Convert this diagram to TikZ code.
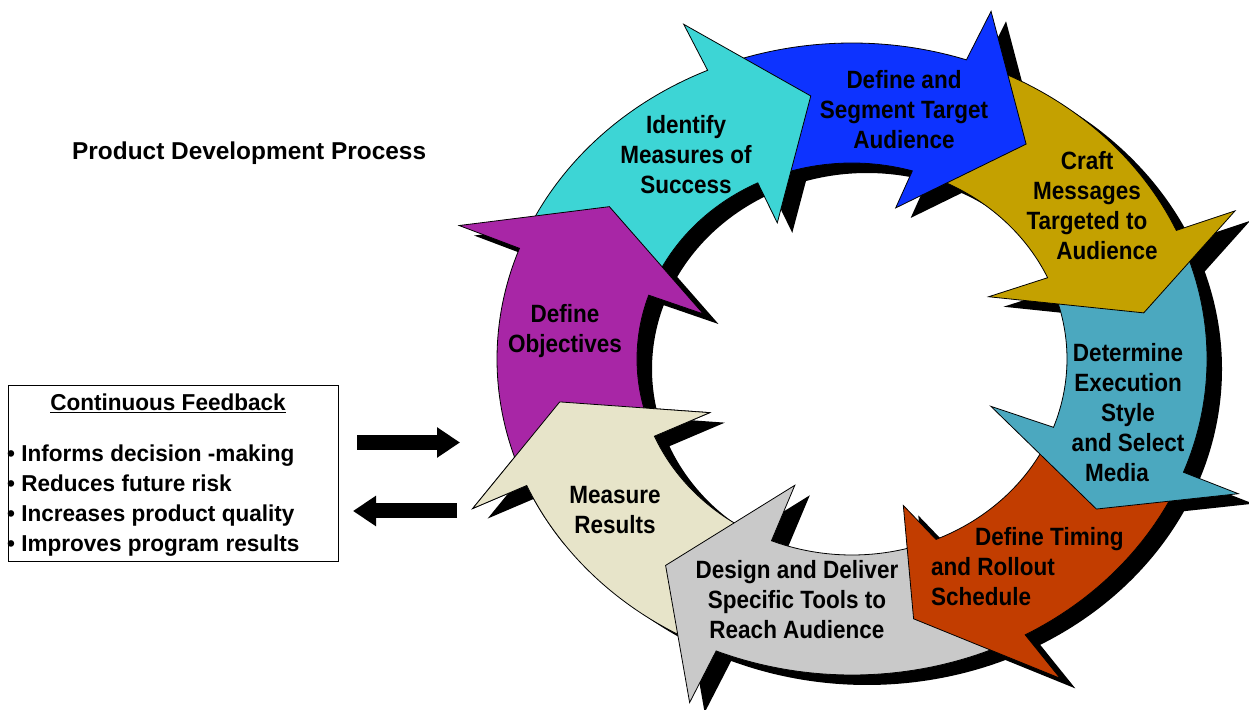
\documentclass[tikz,border=0pt]{standalone}
\usepackage{fontspec}
\setmainfont{Liberation Sans}
\newfontfamily\ringfont[FakeStretch=0.9]{Liberation Sans}
\newfontfamily\boxfont[FakeStretch=0.98]{Liberation Sans}
\usetikzlibrary{arrows.meta}
\definecolor{cpurple}{RGB}{168,38,166}
\definecolor{ccyan}{RGB}{61,213,213}
\definecolor{cblue}{RGB}{13,51,255}
\definecolor{cgold}{RGB}{196,161,0}
\definecolor{cteal}{RGB}{75,168,191}
\definecolor{corange}{RGB}{194,61,0}
\definecolor{cgray}{RGB}{201,201,201}
\definecolor{ccream}{RGB}{231,228,201}
% point on ring: angle #1, radial fraction #2 (0 inner, 1 outer)
\newcommand\ep[2]{({852+(215+140*(#2))*cos(#1)},{350+(196+120*(#2))*sin(#1)})}
% To, Ti, Bo, Bi, OB, A, IB, OBs, IBs
\newcommand\cycpath[9]{\ep{#1}{1} arc[start angle=#1,end angle=#3,x radius=355pt,y radius=316pt] -- \ep{#5}{#8} -- \ep{#6}{0.58} -- \ep{#7}{#9} -- \ep{#4}{0} arc[start angle=#4,end angle=#2,x radius=215pt,y radius=196pt] -- cycle}
\def\pA{\cycpath{200}{200}{159.5}{161}{159}{145}{162}{1.47}{-0.42}}
\def\pB{\cycpath{156.5}{158}{114}{116}{114}{98}{117}{1.42}{-0.36}}
\def\pC{\cycpath{111}{113}{71.2}{73.7}{70.5}{54}{75}{1.44}{-0.33}}
\def\pD{\cycpath{68}{70.5}{24}{24.5}{23.6}{10}{26}{1.45}{-0.45}}
\def\pE{\cycpath{21}{21.5}{-21}{-20.4}{-21.5}{-34.4}{-20}{1.43}{-0.48}}
\def\pF{\cycpath{-24}{-23.5}{-60.8}{-67}{-60}{-78}{-72}{1.44}{-0.35}}
\def\pG{\cycpath{-65}{-72}{-112.5}{-112}{-112.7}{-129}{-113}{1.47}{-0.49}}
\def\pH{\cycpath{-115.5}{-115}{-156.4}{-156.8}{-156}{-170.7}{-158}{1.43}{-0.44}}
\tikzset{
  shadowfill/.style={fill=black,xshift=15pt,yshift=-10pt},
  ringarrow/.style={fill=#1,draw=black,line width=0.8pt,line join=miter},
  ringtext/.style={align=center,inner sep=0pt,font=\ringfont\bfseries\fontsize{25}{30}\selectfont},
  blockarrow/.style={line width=15pt,-{Triangle[length=23pt,width=29pt]}}
}
\begin{document}
\begin{tikzpicture}[x=1pt,y=1pt]
\useasboundingbox (0,0) rectangle (1249,709);
% shadows
\fill[shadowfill] \pA; \fill[shadowfill] \pB; \fill[shadowfill] \pC; \fill[shadowfill] \pD;
\fill[shadowfill] \pE; \fill[shadowfill] \pF; \fill[shadowfill] \pG; \fill[shadowfill] \pH;
% arrows
\filldraw[ringarrow=ccream] \pH;
\filldraw[ringarrow=cgray] \pG;
\filldraw[ringarrow=corange] \pF;
\filldraw[ringarrow=cteal] \pE;
\filldraw[ringarrow=cgold] \pD;
\filldraw[ringarrow=cblue] \pC;
\filldraw[ringarrow=ccyan] \pB;
\filldraw[ringarrow=cpurple] \pA;
\begin{scope}
\clip (440,329) -- (760,329) -- (760,239) -- (650,164) -- (440,164) -- cycle;
\filldraw[ringarrow=ccream] \pH;
\end{scope}
% ring labels
\node[ringtext] (obj) at (565,378) {Define\\Objectives};
\node[ringtext] (ims) at (686,554) {Identify\\Measures of\\Success};
\node[ringtext] (dst) at (904,599) {Define and\\Segment Target\\Audience};
\node[ringtext] (cft) at (1087,503) {Craft\\Messages\\Targeted to\\\hspace*{40pt}Audience};
\node[ringtext] (det) at (1128,296) {Determine\\Execution\\Style\\and Select\\Media\hspace*{22pt}};
\node[ringtext,align=left,anchor=west] (tim) at (931,142) {\hspace*{44pt}Define Timing\\and Rollout\\Schedule};
\node[ringtext] (dsg) at (797,109) {Design and Deliver\\Specific Tools to\\Reach Audience};
\node[ringtext] (mes) at (615,199) {Measure\\Results};
% title
\node[anchor=west,inner sep=0pt,font=\bfseries\fontsize{24.4}{29}\selectfont] (title) at (72,556) {Product Development Process};
% feedback box
\node[draw,line width=1.3pt,minimum width=330pt,minimum height=176pt,anchor=north west,inner sep=0pt] (box) at (8,324) {};
\node[inner sep=0pt,font=\boxfont\bfseries\fontsize{23}{28}\selectfont] (fbt) at (168,306) {\underline{Continuous Feedback}};
\node[anchor=west,align=left,inner sep=0pt,font=\boxfont\bfseries\fontsize{23}{30}\selectfont] (fbl) at (7,208) {• Informs decision -making\\• Reduces future risk\\• Increases product quality\\• Improves program results};
% block arrows
\coordinate (r1) at (357,266.5); \coordinate (r2) at (460,266.5);
\coordinate (l1) at (457,198); \coordinate (l2) at (353,198);
\draw[blockarrow] (r1) -- (r2);
\draw[blockarrow] (l1) -- (l2);
\end{tikzpicture}
\end{document}
